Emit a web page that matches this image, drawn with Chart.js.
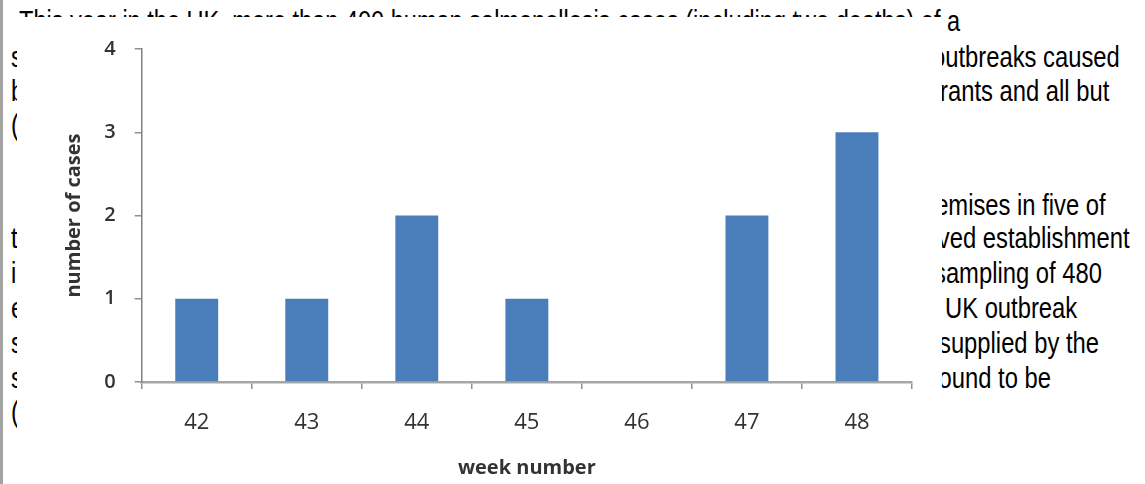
<!DOCTYPE html>
<html><head><meta charset="utf-8">
<script src="https://cdn.jsdelivr.net/npm/chart.js@4"></script>
<style>
html,body{margin:0;padding:0;background:#fff;}
body{width:1145px;height:484px;overflow:hidden;position:relative;}
#edge{position:absolute;left:0;top:0;width:3px;height:484px;background:#a3a3a3;}
.t{position:absolute;white-space:nowrap;font-family:"Liberation Sans",Arial,sans-serif;font-size:29px;line-height:29px;color:#000;transform-origin:0 0;}
#box{position:absolute;left:17px;top:17px;width:925px;height:467px;background:#fff;z-index:2;}
#box canvas{display:block;}
</style></head><body>
<div id="edge"></div>
<div id="text"></div>
<div id="box"><canvas id="c" width="925" height="467"></canvas></div>
<script>
// ---- chart data ----
const weeks = ["42","43","44","45","46","47","48"];
const cases = [1,1,2,1,0,2,3];
const yTicks = [0,1,2,3,4];

// ---- page text behind the chart ----
const leftLines = [
  {b:31.5,x:19,  k:0.812, s:"This year in the UK, more than 400 human salmonellosis cases (including two deaths) of a"},
  {b:67,  x:11,  k:0.82, s:"serotype Enteritidis"},
  {b:101, x:11,  k:0.82, s:"by"},
  {b:135, x:11,  k:0.82, s:"(Spain)"},
  {b:248, x:11,  k:0.82, s:"the"},
  {b:283, x:11,  k:0.82, s:"in"},
  {b:318, x:11,  k:0.82, s:"eggs"},
  {b:353, x:11,  k:0.82, s:"strain"},
  {b:388, x:11,  k:0.82, s:"supplier"},
  {b:422, x:11,  k:0.82, s:"(Spain)"}
];
const rightLines = [
  {b:67,  at:945, pre:"o",       s:"outbreaks caused"},
  {b:101, at:948, pre:"restaur", s:"restaurants and all but"},
  {b:215, at:948, pre:"pre",     s:"premises in five of"},
  {b:248, at:950, pre:"approv",  s:"approved establishment"},
  {b:283, at:946, pre:"s",       s:"sampling of 480"},
  {b:318, at:945, pre:"",        s:"UK outbreak"},
  {b:353, at:951, pre:"s",       s:"supplied by the"},
  {b:388, at:952, pre:"fo",      s:"found to be"}
];

const host = document.getElementById('text');
const mctx = document.createElement('canvas').getContext('2d');
mctx.font = '29px "Liberation Sans", Arial, sans-serif';
function addLine(x, b, s, k){
  const d = document.createElement('div');
  d.className = 't';
  d.textContent = s;
  d.style.left = x + 'px';
  d.style.top = (b - 24.5) + 'px';
  d.style.transform = 'scaleX(' + k + ')';
  host.appendChild(d);
}
leftLines.forEach(l => addLine(l.x, l.b, l.s, l.k));
rightLines.forEach(l => addLine(l.at - mctx.measureText(l.pre).width * 0.82, l.b, l.s, 0.82));

// ---- chart ----
new Chart(document.getElementById('c'), {
  type: 'bar',
  data: {
    labels: weeks,
    datasets: [{
      data: cases,
      backgroundColor: '#4a7ebb',
      borderWidth: 0,
      barPercentage: 0.39,
      categoryPercentage: 1
    }]
  },
  options: {
    responsive: false,
    animation: false,
    layout: {padding: {left: 0, top: 32, right: 30, bottom: 0}},
    plugins: {legend: {display: false}, tooltip: {enabled: false}},
    scales: {
      x: {
        grid: {display: true, drawOnChartArea: false, drawTicks: true, tickLength: 7, color: '#8f8f8f', lineWidth: 1.5, offset: true},
        border: {display: true, color: '#a6a6a6', width: 2.5},
        ticks: {color: '#333333', font: {family: 'Open Sans', size: 22}, padding: 21},
        title: {display: true, text: 'week number', color: '#333333', font: {family: 'Open Sans', size: 20, weight: 'bold'}, padding: {top: 0, bottom: 4}},
        afterFit: s => { s.height = 102; }
      },
      y: {
        min: 0, max: 4,
        afterBuildTicks: s => { s.ticks = yTicks.map(v => ({value: v})); },
        grid: {drawOnChartArea: false, drawTicks: true, tickLength: 7, color: '#8f8f8f', lineWidth: 1.5},
        border: {display: true, color: '#7f7f7f', width: 1.5},
        ticks: {color: '#333333', font: {family: 'Open Sans', size: 20, weight: '600'}, padding: 19},
        title: {display: true, text: 'number of cases', color: '#333333', font: {family: 'Open Sans', size: 20, weight: 'bold'}, padding: {top: 45.5, bottom: 0}},
        afterFit: s => { s.width = 124.7; }
      }
    }
  }
});
</script>
</body></html>
